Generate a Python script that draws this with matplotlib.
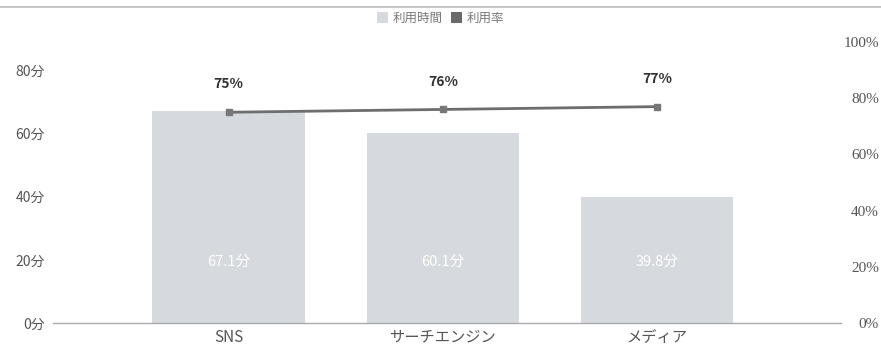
import matplotlib
matplotlib.use("Agg")
import matplotlib.pyplot as plt
from matplotlib.lines import Line2D
from matplotlib.patches import Patch

plt.rcParams['font.family'] = ['Noto Sans CJK JP', 'DejaVu Sans']

categories = ['SNS', 'サーチエンジン', 'メディア']
usage_minutes = [67.1, 60.1, 39.8]
usage_rate = [75, 76, 77]
left_ticks = [0, 20, 40, 60, 80]
right_ticks = [0, 20, 40, 60, 80, 100]

bar_color = '#d6dadf'
line_color = '#6e6e6e'
text_color = '#555555'

fig = plt.figure(figsize=(8.81, 3.47), dpi=100)
ax = fig.add_axes([0.060, 0.069, 0.895, 0.810])
ax2 = ax.twinx()

x = range(len(categories))
ax.bar(x, usage_minutes, width=0.71, color=bar_color, zorder=1)
for i, v in enumerate(usage_minutes):
    ax.text(i, 19.5, f'{v}分', ha='center', va='center', color='white',
            fontsize=10.5, zorder=3)

ax2.plot(x, usage_rate, color=line_color, lw=2, marker='s', markersize=5,
         markerfacecolor='#777777', markeredgecolor='#777777', zorder=4)
for i, v in enumerate(usage_rate):
    ax2.annotate(f'{v}%', (i, v), xytext=(0, 20), textcoords='offset points',
                 ha='center', va='center', fontsize=10, fontweight='bold',
                 color='#333333')

ax.set_xlim(-0.82, 2.86)
ax.set_ylim(0, 89)
ax2.set_ylim(0, 100)

ax.set_xticks(list(x))
ax.set_xticklabels(categories, fontsize=11, color=text_color)
ax.set_yticks(left_ticks)
ax.set_yticklabels([f'{t}分' for t in left_ticks], fontsize=10, color=text_color)
ax2.set_yticks(right_ticks)
ax2.set_yticklabels([f'{t}%' for t in right_ticks])

ax.tick_params(axis='y', length=0, pad=6)
ax.tick_params(axis='x', length=0, pad=4)
ax2.tick_params(axis='y', length=0, pad=27)

# right-hand percentages are set in a serif face
for lbl in ax2.get_yticklabels():
    lbl.set_fontfamily('Liberation Serif')
    lbl.set_fontsize(11)
    lbl.set_color(text_color)
    lbl.set_horizontalalignment('right')

for a in (ax, ax2):
    for side in ('top', 'right', 'left', 'bottom'):
        a.spines[side].set_visible(False)
ax.spines['bottom'].set_visible(True)
ax.spines['bottom'].set_color('#aaaaaa')
ax.spines['bottom'].set_linewidth(1)
ax.set_zorder(ax2.get_zorder() - 1)
ax.patch.set_visible(False)

handles = [Patch(facecolor=bar_color, edgecolor='none', label='利用時間'),
           Patch(facecolor='#6a6a6a', edgecolor='none', label='利用率')]
fig.legend(handles=handles, loc='center', bbox_to_anchor=(0.5, 0.947), ncol=2,
           frameon=False, fontsize=9, handlelength=0.9, handleheight=0.9,
           handletextpad=0.4, columnspacing=0.6, labelcolor='#777777')

fig.add_artist(Line2D([0, 1], [0.98, 0.98], transform=fig.transFigure,
                      color='#bbbbbb', lw=1.2))

fig.savefig('out.png', dpi=100)
